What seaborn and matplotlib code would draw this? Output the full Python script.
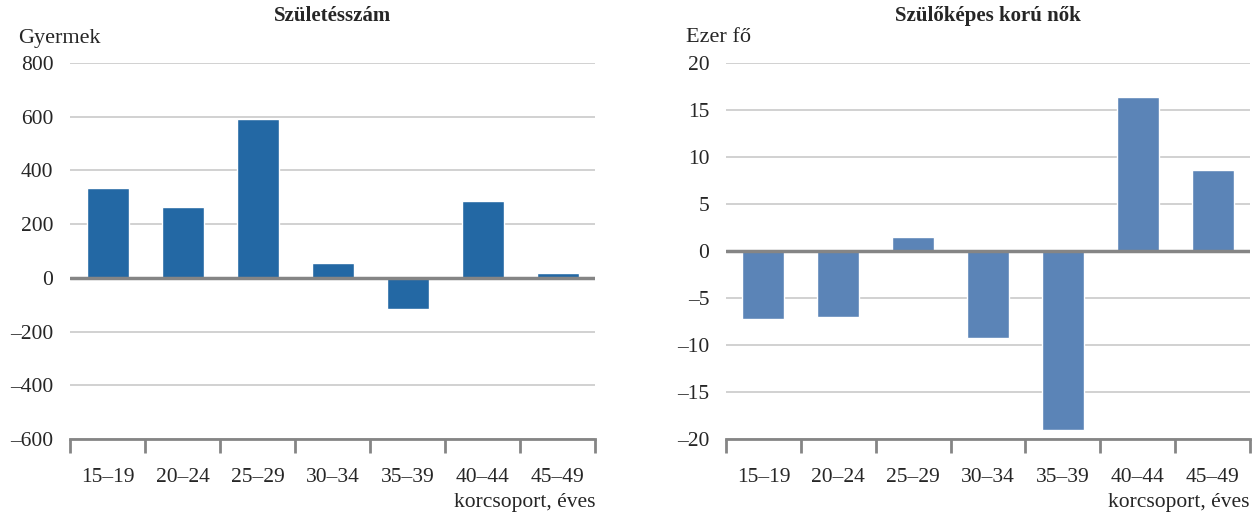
import matplotlib
matplotlib.use("Agg")
import matplotlib.pyplot as plt
import seaborn as sns
import pandas as pd
import numpy as np
from matplotlib.ticker import FixedLocator, FuncFormatter

categories = ["15–19", "20–24", "25–29", "30–34", "35–39", "40–44", "45–49"]
births = [334, 262, 590, 54, -117, 288, 17]
women = [-7.2, -7.0, 1.5, -9.3, -19.0, 16.4, 8.6]

left_title = "Születésszám"
right_title = "Szülőképes korú nők"
left_unit = "Gyermek"
right_unit = "Ezer fő"
x_note = "korcsoport, éves"

sns.set_theme(style="white")
plt.rcParams['font.family'] = ['Liberation Serif', 'DejaVu Serif']
plt.rcParams['axes.unicode_minus'] = False

fig = plt.figure(figsize=(12.52, 5.14), dpi=100)
W, H = 1252, 514
ax1 = fig.add_axes([70 / W, (514 - 439) / H, 525 / W, 376 / H])
ax2 = fig.add_axes([726 / W, (514 - 439) / H, 524 / W, 376 / H])

GRID = "#c9c9c9"
AXC = "#858585"
TXT = "#262626"

def style(ax, data, color, ylim, ystep, title, unit, unit_x):
    df = pd.DataFrame({"cat": categories, "val": data})
    sns.barplot(data=df, x="cat", y="val", ax=ax, color=color, width=0.56,
                saturation=1, order=categories)
    ax.set_xlim(-0.5, len(categories) - 0.5)
    ax.set_ylim(*ylim)
    yt = np.arange(ylim[0], ylim[1] + ystep / 2, ystep)
    ax.set_yticks(yt)
    ax.yaxis.set_major_formatter(FuncFormatter(lambda v, p: f"{v:g}".replace("-", "–")))
    ax.grid(axis="y", color=GRID, linewidth=1.2, zorder=0)
    ax.set_axisbelow(True)
    ax.axhline(0, color=AXC, linewidth=2.5, zorder=3)
    for s in ["top", "right", "left"]:
        ax.spines[s].set_visible(False)
    ax.spines["bottom"].set_color(AXC)
    ax.spines["bottom"].set_linewidth(2)
    ax.xaxis.set_minor_locator(FixedLocator(np.arange(-0.5, len(categories), 1.0)))
    ax.tick_params(axis="x", which="minor", length=10, width=2, color=AXC, direction="out", bottom=True)
    ax.tick_params(axis="x", which="major", length=0, pad=21, labelsize=15.5, labelcolor=TXT)
    ax.tick_params(axis="y", length=0, pad=12, labelsize=15.5, labelcolor=TXT)
    ax.set_xlabel("")
    ax.set_ylabel("")
    ax.set_title(title, fontsize=15, fontweight="bold", color=TXT, pad=30)
    fig.text(unit_x / W, 1 - 38 / H, unit, fontsize=16, color=TXT, ha="left", va="center")
    ax.text(1.0, -0.17, x_note, transform=ax.transAxes, fontsize=15.5, color=TXT,
            ha="right", va="center")

style(ax1, births, "#2368a4", (-600, 800), 200, left_title, left_unit, 18)
style(ax2, women, "#5b84b7", (-20, 20), 5, right_title, right_unit, 686)

fig.savefig("out.png", dpi=100)
